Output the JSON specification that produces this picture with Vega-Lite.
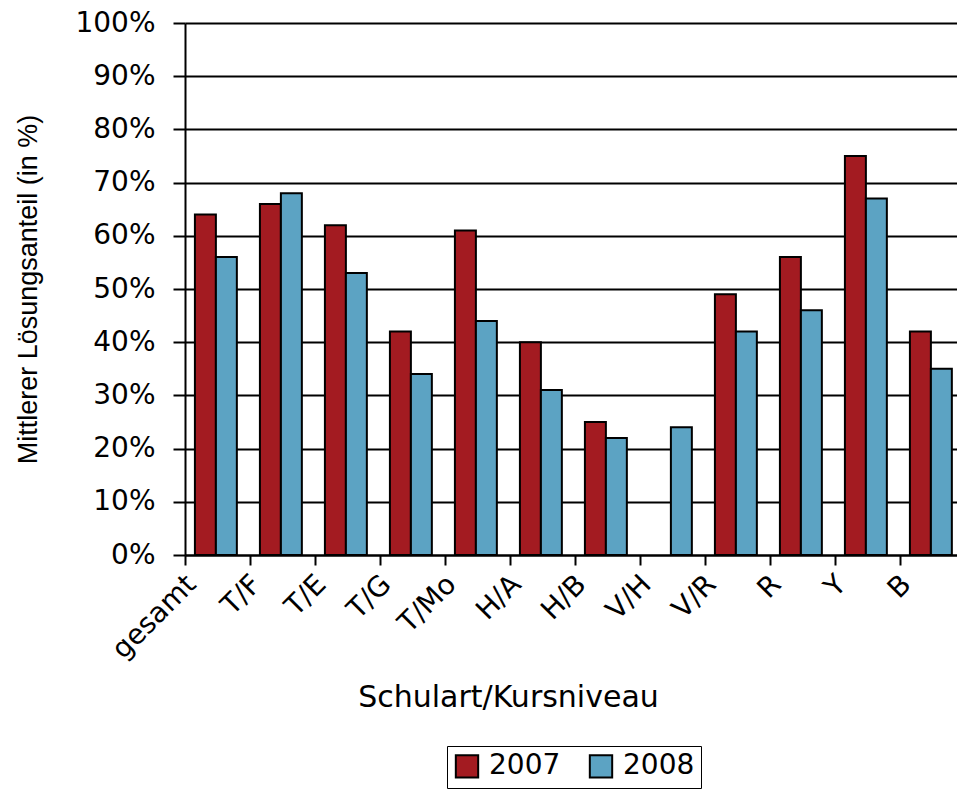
{
  "$schema": "https://vega.github.io/schema/vega-lite/v6.json",
  "autosize": "none",
  "width": 772,
  "height": 532,
  "padding": {"left": 185, "top": 23, "right": 0, "bottom": 239},
  "background": "white",
  "config": {
    "font": "DejaVu Sans",
    "view": {"stroke": null},
    "axis": {"labelColor": "black", "titleColor": "black", "labelFont": "DejaVu Sans", "titleFont": "DejaVu Sans", "titleFontWeight": "normal"},
    "legend": {"labelFont": "DejaVu Sans"}
  },
  "data": {
    "values": [
      {"kat": "gesamt", "jahr": "2007", "wert": 0.64},
      {"kat": "gesamt", "jahr": "2008", "wert": 0.56},
      {"kat": "T/F", "jahr": "2007", "wert": 0.66},
      {"kat": "T/F", "jahr": "2008", "wert": 0.68},
      {"kat": "T/E", "jahr": "2007", "wert": 0.62},
      {"kat": "T/E", "jahr": "2008", "wert": 0.53},
      {"kat": "T/G", "jahr": "2007", "wert": 0.42},
      {"kat": "T/G", "jahr": "2008", "wert": 0.34},
      {"kat": "T/Mo", "jahr": "2007", "wert": 0.61},
      {"kat": "T/Mo", "jahr": "2008", "wert": 0.44},
      {"kat": "H/A", "jahr": "2007", "wert": 0.40},
      {"kat": "H/A", "jahr": "2008", "wert": 0.31},
      {"kat": "H/B", "jahr": "2007", "wert": 0.25},
      {"kat": "H/B", "jahr": "2008", "wert": 0.22},
      {"kat": "V/H", "jahr": "2008", "wert": 0.24},
      {"kat": "V/R", "jahr": "2007", "wert": 0.49},
      {"kat": "V/R", "jahr": "2008", "wert": 0.42},
      {"kat": "R", "jahr": "2007", "wert": 0.56},
      {"kat": "R", "jahr": "2008", "wert": 0.46},
      {"kat": "Y", "jahr": "2007", "wert": 0.75},
      {"kat": "Y", "jahr": "2008", "wert": 0.67},
      {"kat": "B", "jahr": "2007", "wert": 0.42},
      {"kat": "B", "jahr": "2008", "wert": 0.35}
    ]
  },
  "mark": {"type": "bar", "stroke": "black", "strokeWidth": 2},
  "encoding": {
    "x": {
      "field": "kat",
      "type": "nominal",
      "sort": ["gesamt", "T/F", "T/E", "T/G", "T/Mo", "H/A", "H/B", "V/H", "V/R", "R", "Y", "B"],
      "scale": {"paddingInner": 0, "paddingOuter": 0, "range": [0, 780]},
      "axis": {
        "title": "Schulart/Kursniveau",
        "titleFontSize": 30,
        "titleX": 323,
        "titleY": 142,
        "titleBaseline": "middle",
        "labelAngle": -45,
        "labelAlign": "right",
        "labelBaseline": "top",
        "labelFontSize": 28,
        "labelOffset": -36,
        "labelPadding": 5,
        "tickBand": "extent",
        "ticks": true,
        "tickSize": 10,
        "tickColor": "black",
        "tickWidth": 2,
        "domainColor": "black",
        "domainWidth": 2,
        "grid": false
      }
    },
    "xOffset": {
      "field": "jahr",
      "type": "nominal",
      "scale": {"paddingInner": 0, "paddingOuter": 0.55, "align": 0.43}
    },
    "y": {
      "field": "wert",
      "type": "quantitative",
      "scale": {"domain": [0, 1], "nice": false},
      "axis": {
        "title": "Mittlerer Lösungsanteil (in %)",
        "titleFont": "Liberation Sans",
        "titleFontSize": 27,
        "titlePadding": 32,
        "format": ".0%",
        "values": [0, 0.1, 0.2, 0.3, 0.4, 0.5, 0.6, 0.7, 0.8, 0.9, 1],
        "labelFontSize": 28,
        "labelPadding": 18,
        "tickSize": 12,
        "tickColor": "black",
        "tickWidth": 2,
        "domainColor": "black",
        "domainWidth": 2,
        "grid": true,
        "gridColor": "black",
        "gridWidth": 2,
        "gridOpacity": 1
      }
    },
    "fill": {
      "field": "jahr",
      "type": "nominal",
      "scale": {"domain": ["2007", "2008"], "range": ["#A31B21", "#5CA3C3"]},
      "legend": {
        "title": null,
        "orient": "none",
        "legendX": 262,
        "legendY": 723,
        "direction": "horizontal",
        "strokeColor": "black",
        "padding": 6,
        "symbolType": "square",
        "symbolSize": 500,
        "symbolStrokeColor": "black",
        "symbolStrokeWidth": 2,
        "labelFontSize": 28,
        "labelColor": "black",
        "labelOffset": 8,
        "columnPadding": 24
      }
    }
  }
}
